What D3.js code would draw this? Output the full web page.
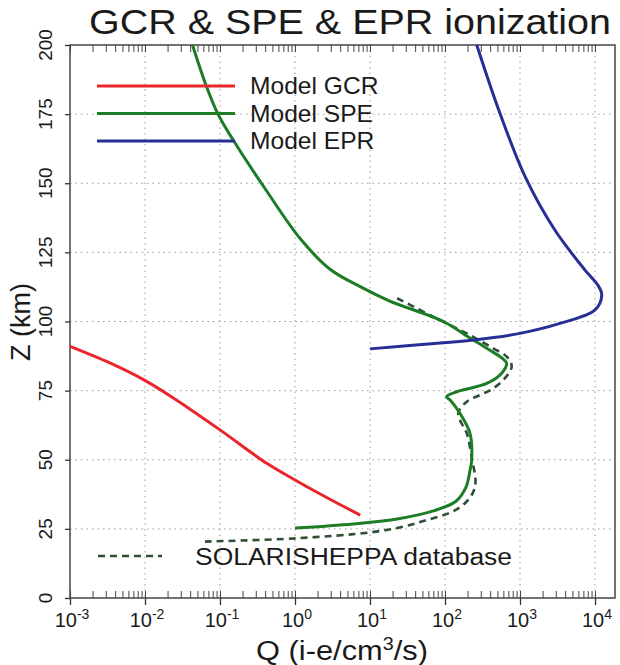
<!DOCTYPE html>
<html><head><meta charset="utf-8">
<script src="https://cdn.jsdelivr.net/npm/d3@7"></script>
<style>
html,body{margin:0;padding:0;background:#fff;}
text{font-family:"Liberation Sans",Arial,sans-serif;fill:#1a1a1a;}
</style></head>
<body><svg id="c" width="620" height="665"></svg>
<script>
// ---- data ----
const title = "GCR & SPE & EPR ionization";
const xTickExps = [-3,-2,-1,0,1,2,3,4];
const yTicks = [0,25,50,75,100,125,150,175,200];

const gcrZ = [91, 85, 78.8, 72.8, 60.8, 48.7, 42.7, 36, 30];
const gcrQ = [0.001, 0.0034, 0.0098, 0.0225, 0.1, 0.42, 1.0, 2.8, 7.4];

const speZ = [200, 185, 175, 165, 148, 130, 119, 112.6, 107.5, 100, 94, 90.3, 85, 81.3, 77.6, 74.6, 72.8, 71.6, 66.8, 59.6, 50, 46, 40, 35, 31.5, 28.5, 26.8, 25.3];
const speQ = [0.043, 0.066, 0.094, 0.155, 0.4, 1.17, 2.9, 7.4, 18, 95, 215, 360, 660, 570, 360, 143, 105, 117, 158, 215, 227, 215, 190, 140, 70, 22, 6, 1.0];

const eprZ = [200, 175.3, 152.4, 133, 118.6, 113, 109.6, 104.2, 99.3, 95.7, 93.3, 92.3, 90.1];
const eprQ = [265, 540, 1170, 2930, 7360, 11000, 12300, 10000, 3400, 1000, 240, 95, 10];

const dbZ = [108.4, 99.9, 95.7, 90.3, 87.3, 83.7, 79.5, 75.8, 73.4, 71, 66.8, 62, 59.6, 50, 42, 38, 34, 31, 28.2, 25.8, 23.8, 21.6, 20.4];
const dbQ = [23, 95, 195, 440, 665, 775, 630, 440, 293, 195, 150, 175, 195, 230, 255, 235, 180, 120, 57, 28, 10.5, 1.05, 0.063];

const legendNames = ["Model GCR", "Model SPE", "Model EPR"];
const legendColors = ["#e8262b", "#1c7d25", "#272f96"];
const dbName = "SOLARISHEPPA database";
const xLabel = "Q (i-e/cm";
const yLabel = "Z (km)";

// ---- layout ----
const svg = d3.select("#c");
const L = 70, R = 615, T = 45, B = 598;
const x = d3.scaleLog().domain([1e-3, 1e4]).range([L, 595]);
const y = d3.scaleLinear().domain([0, 200]).range([B, T]);

// grid
const grid = svg.append("g").attr("stroke", "#9a9a9a").attr("stroke-width", 1).attr("stroke-dasharray", "1.5,4");
xTickExps.slice(1).forEach(e => {
  grid.append("line").attr("x1", x(Math.pow(10, e))).attr("x2", x(Math.pow(10, e))).attr("y1", T).attr("y2", B);
});
yTicks.slice(1, -1).forEach(v => {
  grid.append("line").attr("x1", L).attr("x2", R).attr("y1", y(v)).attr("y2", y(v));
});

// minor ticks values
const minor = [];
for (let e = -3; e < 4; e++) for (let k = 2; k <= 9; k++) minor.push(k * Math.pow(10, e));
const majors = xTickExps.map(e => Math.pow(10, e));

// bottom axis major (outward)
const gB = svg.append("g").attr("transform", `translate(0,${B})`)
  .call(d3.axisBottom(x).tickValues(majors).tickSize(7).tickSizeOuter(0).tickFormat(""));
gB.select(".domain").remove();
gB.selectAll("line").attr("stroke", "#333").attr("stroke-width", 1.3);
// bottom minor (inward)
const gBm = svg.append("g").attr("transform", `translate(0,${B})`)
  .call(d3.axisTop(x).tickValues(minor.concat(majors)).tickSize(7).tickFormat(""));
gBm.select(".domain").remove();
gBm.selectAll("line").attr("stroke", "#444").attr("stroke-width", 1);
// top minor (inward)
const gT = svg.append("g").attr("transform", `translate(0,${T})`)
  .call(d3.axisBottom(x).tickValues(minor.concat(majors)).tickSize(7).tickFormat(""));
gT.select(".domain").remove();
gT.selectAll("line").attr("stroke", "#444").attr("stroke-width", 1);

// x tick labels with superscripts
const xl = svg.append("g");
xTickExps.forEach(e => {
  const t = xl.append("text").attr("x", x(Math.pow(10, e)) + 2).attr("y", 627)
    .attr("text-anchor", "middle").attr("font-size", 20);
  t.append("tspan").text("10");
  t.append("tspan").attr("dy", -8).attr("font-size", 14).text(String(e));
});

// left axis
const gL = svg.append("g").attr("transform", `translate(${L},0)`)
  .call(d3.axisLeft(y).tickValues(yTicks).tickSize(5).tickFormat(""));
gL.select(".domain").remove();
gL.selectAll("line").attr("stroke", "#333").attr("stroke-width", 1.3);
yTicks.forEach(v => {
  svg.append("text").attr("transform", `translate(52,${y(v)}) rotate(-90)`)
    .attr("text-anchor", "middle").attr("font-size", 19).text(v);
});

// frame
svg.append("rect").attr("x", L).attr("y", T).attr("width", R - L).attr("height", B - T)
  .attr("fill", "none").attr("stroke", "#444").attr("stroke-width", 1.5);

// curves
const line = d3.line().x(d => x(d[0])).y(d => y(d[1])).curve(d3.curveCatmullRom.alpha(0.5));
const zip = (q, z) => q.map((v, i) => [v, z[i]]);

const plot = svg.append("g");
plot.append("path").datum(zip(dbQ, dbZ)).attr("d", line).attr("fill", "none")
  .attr("stroke", "#2f4f34").attr("stroke-width", 2.6).attr("stroke-dasharray", "7,5");
plot.append("path").datum(zip(gcrQ, gcrZ)).attr("d", line).attr("fill", "none")
  .attr("stroke", legendColors[0]).attr("stroke-width", 3);
plot.append("path").datum(zip(speQ, speZ)).attr("d", line).attr("fill", "none")
  .attr("stroke", legendColors[1]).attr("stroke-width", 3);
plot.append("path").datum(zip(eprQ, eprZ)).attr("d", line).attr("fill", "none")
  .attr("stroke", legendColors[2]).attr("stroke-width", 3);

// legend
const lg = svg.append("g");
legendNames.forEach((n, i) => {
  const yy = 86 + i * 27.5;
  lg.append("line").attr("x1", 97).attr("x2", 235).attr("y1", yy).attr("y2", yy)
    .attr("stroke", legendColors[i]).attr("stroke-width", 3);
  lg.append("text").attr("transform", `translate(250,${yy + 8}) scale(1.07,1)`).attr("font-size", 23).text(n);
});
lg.append("line").attr("x1", 98).attr("x2", 162).attr("y1", 556).attr("y2", 556)
  .attr("stroke", "#2f4f34").attr("stroke-width", 2.6).attr("stroke-dasharray", "7,5");
lg.append("text").attr("transform", `translate(195,565) scale(1.08,1)`).attr("font-size", 24.5).text(dbName);

// titles
svg.append("text").attr("x", 350).attr("y", 34).attr("text-anchor", "middle").attr("font-size", 35)
  .attr("textLength", 522).attr("lengthAdjust", "spacingAndGlyphs").text(title);
const xt = svg.append("text").attr("transform", "translate(342,660) scale(1.1,1)").attr("text-anchor", "middle").attr("font-size", 28);
xt.append("tspan").text(xLabel);
xt.append("tspan").attr("dy", -10).attr("font-size", 18).text("3");
xt.append("tspan").attr("dy", 10).text("/s)");
svg.append("text").attr("transform", `translate(30,322) rotate(-90)`).attr("text-anchor", "middle")
  .attr("font-size", 27).text(yLabel);
</script></body></html>
